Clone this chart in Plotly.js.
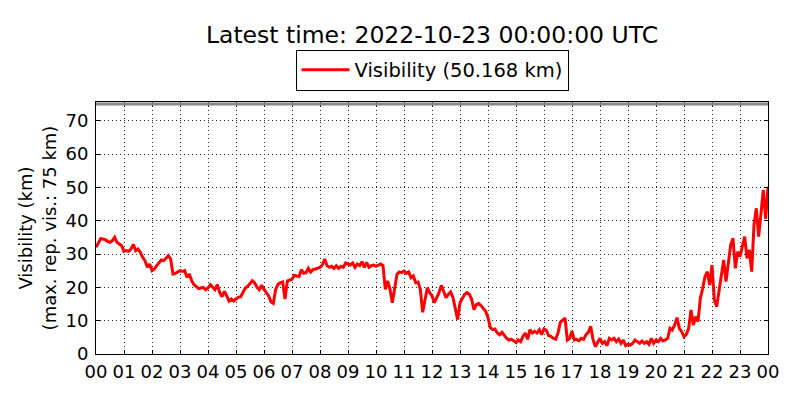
<!DOCTYPE html>
<html>
<head>
<meta charset="utf-8">
<script src="https://cdn.plot.ly/plotly-3.0.1.min.js"></script>
<style>
    html, body { margin: 0; padding: 0; background: #fff; }
    #chart { width: 800px; height: 400px; }
</style>
</head>
<body>
<div id="chart"></div>
<script>
// visibility readings, 5-minute steps, one row per hour (km)
let vis00 = [32, 33.5, 34.6, 34.5, 34.3, 33.8, 33.5, 34, 35, 33.5, 33, 32.5];
let vis01 = [30.8, 31, 30.8, 31.5, 32.9, 31, 31.5, 30.5, 29, 28, 26, 27];
let vis02 = [25, 25.5, 26.5, 27.5, 28.2, 28, 28.7, 29.5, 28.5, 24, 24.2, 24.5];
let vis03 = [25, 24.8, 25, 23, 24, 22, 20.8, 20.2, 19.6, 19.8, 20, 19.3];
let vis04 = [19.8, 20.8, 20, 19.3, 20.8, 18.5, 17.2, 18.8, 17.5, 15.9, 16.5, 15.9];
let vis05 = [16.5, 17, 17.2, 18.5, 19.8, 20.3, 21, 22, 21.3, 20, 19.3, 20.6];
let vis06 = [19.4, 18.4, 17.4, 15.6, 15.2, 19.4, 20.9, 21.4, 21.6, 16.5, 21.9, 22.2];
let vis07 = [22.4, 23.6, 23.4, 23.2, 25.3, 24.2, 24.4, 25.7, 24.6, 25.3, 25.5, 25.7];
let vis08 = [26, 26.7, 28.5, 26.5, 26, 26.3, 25.7, 26.5, 25.7, 26.3, 26, 27.3];
let vis09 = [27, 26.7, 27.3, 26, 27, 26.5, 27.7, 26, 27.5, 26, 26.5, 26.7];
let vis10 = [26.3, 26.7, 27, 26.5, 19.4, 21.9, 19.4, 15.4, 19.4, 23.9, 24.6, 24.4];
let vis11 = [24.9, 24.2, 24.6, 22.9, 23.4, 21.4, 21.6, 19.4, 12.5, 16.4, 19.9, 18.4];
let vis12 = [17.5, 15.4, 16.9, 18.4, 20.6, 18.4, 16.9, 17.9, 18.6, 16.9, 13.3, 10.3];
let vis13 = [15.4, 16.9, 17.9, 18.4, 17.9, 16.4, 13.3, 14.8, 15.2, 14.5, 13.8, 12.8];
let vis14 = [10.9, 7.9, 7.3, 7.5, 6.3, 5.8, 6.5, 5.5, 4.7, 4.2, 4.4, 4.0];
let vis15 = [3.4, 4.2, 3.7, 5.3, 6.3, 4.4, 7.3, 6.3, 6.8, 6.3, 7.3, 5.8];
let vis16 = [7.5, 7.1, 5.5, 5.3, 4.7, 4.4, 6.3, 9.5, 10.3, 10.8, 4.2, 4.7];
let vis17 = [6.8, 4.2, 4.4, 4.0, 4.7, 4.4, 5.8, 6.5, 8.3, 4.4, 2.2, 3.7];
let vis18 = [4.7, 3.2, 3.7, 2.5, 4.7, 4.2, 4.7, 3.7, 4.5, 3.2, 4.2, 2.5];
let vis19 = [2.9, 2.7, 3.2, 4.2, 3.7, 3.2, 3.9, 3.2, 3.7, 2.9, 4.7, 3.2];
let vis20 = [4.2, 3.7, 4.7, 3.9, 4.2, 4.7, 7.7, 7.2, 8.7, 10.9, 7.7, 6.7];
let vis21 = [5.2, 5.9, 7.7, 13.2, 8.7, 11.2, 9.7, 16.7, 19.7, 23.2, 24.7, 20.7];
let vis22 = [26.7, 16.2, 14.2, 18.7, 23.7, 28.2, 21.7, 26.7, 32.7, 34.7, 25.7, 30.7];
let vis23 = [29.2, 32.2, 35.2, 28.7, 31.2, 24.7, 38.7, 43.7, 35.2, 42.2, 49.2, 40.5];
let visLast = [50.168];

let maxRepVis = 75;
let tickHours = [0, 1, 2, 3, 4, 5, 6, 7, 8, 9, 10, 11, 12, 13, 14, 15, 16, 17, 18, 19, 20, 21, 22, 23, 24];
let tickLabels = ['00', '01', '02', '03', '04', '05', '06', '07', '08', '09', '10', '11',
    '12', '13', '14', '15', '16', '17', '18', '19', '20', '21', '22', '23', '00'];
let yTicks = [0, 10, 20, 30, 40, 50, 60, 70];

let visibility = [].concat(vis00, vis01, vis02, vis03, vis04, vis05, vis06, vis07, vis08,
    vis09, vis10, vis11, vis12, vis13, vis14, vis15, vis16, vis17, vis18, vis19, vis20,
    vis21, vis22, vis23, visLast);

let hours = [];
for (let i = 0; i < visibility.length; i++) {
    hours.push(i / 12);   // 5 minute steps
}

let font = 'DejaVu Sans, sans-serif';

function axisStyle() {
    return {
        ticks: 'inside',
        ticklen: 4,
        tickcolor: '#000',
        showline: true,
        linecolor: '#000',
        linewidth: 1,
        mirror: 'ticks',
        showgrid: true,
        gridcolor: '#222',
        griddash: '1px,3px',
        gridwidth: 1,
        zeroline: false,
        tickfont: { size: 18 }
    };
}

var xaxis = axisStyle();
xaxis.range = [0, 24];
xaxis.tickmode = 'array';
xaxis.tickvals = tickHours;
xaxis.ticktext = tickLabels;
xaxis.ticklabelstandoff = 1;

var yaxis = axisStyle();
yaxis.range = [0, 75.6];
yaxis.tickmode = 'array';
yaxis.tickvals = yTicks;
yaxis.ticklabelstandoff = 3;
yaxis.title = {
    text: 'Visibility (km)<br>(max. rep. vis.: ' + maxRepVis + ' km)',
    font: { size: 18 },
    standoff: 4
};

var data = [{
    x: hours,
    y: visibility,
    type: 'scatter',
    mode: 'lines',
    name: 'Visibility (' + visLast[0].toFixed(3) + ' km)',
    line: { color: '#ff0000', width: 3 }
}];

var layout = {
    width: 800,
    height: 400,
    paper_bgcolor: '#ffffff',
    plot_bgcolor: '#ffffff',
    font: { family: font, size: 18, color: '#000' },
    margin: { l: 96, r: 32, t: 102, b: 46 },
    title: {
        text: 'Latest time: 2022-10-23 00:00:00 UTC',
        font: { size: 23.5 },
        x: 0.54,
        xanchor: 'center',
        y: 0.912,
        yanchor: 'middle'
    },
    showlegend: true,
    legend: {
        orientation: 'h',
        x: 0.5,
        xanchor: 'center',
        y: 1.045,
        yanchor: 'bottom',
        bordercolor: '#000',
        borderwidth: 1,
        itemwidth: 48,
        font: { size: 19.5 }
    },
    xaxis: xaxis,
    yaxis: yaxis,
    shapes: [{
        type: 'line',
        xref: 'paper',
        x0: 0,
        x1: 1,
        yref: 'y',
        y0: maxRepVis,
        y1: maxRepVis,
        line: { color: '#888888', width: 3 }
    }]
};

Plotly.newPlot('chart', data, layout, { displayModeBar: false, staticPlot: true });
</script>
</body>
</html>
